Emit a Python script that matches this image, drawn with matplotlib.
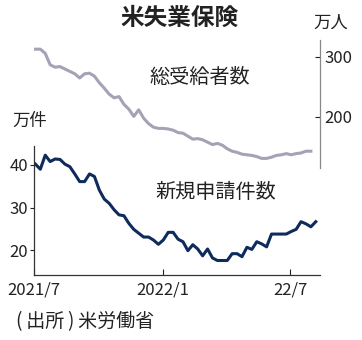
import pandas as pd
import matplotlib
matplotlib.use("Agg")
import matplotlib.pyplot as plt

plt.rcParams['font.family'] = ['Noto Sans CJK JP', 'DejaVu Sans']

# weekly initial claims (万件) and continued claims (万人)
weeks = pd.date_range('2021-07-03', periods=58, freq='7D')
new_claims = [40.2, 39.0, 42.3, 40.8, 41.4, 41.3, 40.2, 39.6, 37.9, 36.1,
              36.1, 37.9, 37.3, 34.1, 32.0, 31.0, 29.5, 28.3, 28.1, 26.3,
              24.9, 24.0, 23.1, 23.1, 22.4, 21.4, 22.4, 24.2, 24.2, 22.6,
              22.0, 19.9, 21.3, 20.3, 18.7, 20.3, 18.2, 17.6, 17.6, 17.6,
              19.2, 19.2, 18.5, 20.7, 20.2, 22.0, 21.5, 20.8, 23.8, 23.8,
              23.8, 23.8, 24.4, 24.9, 26.7, 26.2, 25.5, 26.7]
total_claims = [313, 313, 306, 287, 283, 284, 280, 276, 272, 265,
                272, 273, 268, 257, 248, 238, 232, 234, 221, 213,
                201, 212, 198, 189, 183, 181, 181, 180, 178, 174,
                173, 168, 163, 164, 162, 158, 154, 156, 153, 147,
                143, 141, 138, 137, 136, 134, 131, 131, 133, 136,
                137, 139, 137, 139, 140, 143, 143]

navy = '#0f2b5b'
gray = '#a3a3b5'
ink = '#222222'

fig = plt.figure(figsize=(3.62, 3.40), dpi=100)
xmin = pd.Timestamp('2021-07-01')
xmax = pd.Timestamp('2022-08-12')

# lower panel: new claims
ax = fig.add_axes([34/362, 1 - 275/340, 286/362, 129/340])
ax.plot(weeks, new_claims, color=navy, lw=2.2, solid_joinstyle='round')
ax.set_xlim(xmin, xmax)
ax.set_ylim(14.2, 44.45)
ax.set_yticks([20, 30, 40])
ax.set_xticks([pd.Timestamp('2021-07-01'), pd.Timestamp('2022-01-01'),
               pd.Timestamp('2022-07-01')])
ax.set_xticklabels(['2021/7', '2022/1', '22/7'])
for s in ['top', 'right']:
    ax.spines[s].set_visible(False)
for s in ['left', 'bottom']:
    ax.spines[s].set_color('#333333')
    ax.spines[s].set_linewidth(0.9)
ax.tick_params(axis='y', direction='out', length=3, width=0.8, pad=1.5,
               labelsize=12, colors=ink)
ax.tick_params(axis='x', direction='in', length=4, width=0.8, pad=5,
               labelsize=12, colors=ink)
ax.patch.set_visible(False)

# upper panel: continued claims, right axis
ax2 = fig.add_axes([34/362, 1 - 168/340, 286/362, 128/340])
ax2.plot(weeks[:len(total_claims)], total_claims, color=gray, lw=2.2,
         solid_joinstyle='round')
ax2.set_xlim(xmin, xmax)
ax2.set_ylim(115, 328.3)
ax2.set_yticks([200, 300])
ax2.set_xticks([])
for s in ['top', 'left', 'bottom']:
    ax2.spines[s].set_visible(False)
ax2.spines['right'].set_color('#888888')
ax2.spines['right'].set_linewidth(0.9)
ax2.yaxis.tick_right()
ax2.tick_params(axis='y', direction='in', length=3.5, width=0.8, pad=3,
                labelsize=12, colors=ink)
ax2.patch.set_visible(False)

fig.text(180/362, 1 - 18/340, '米失業保険', ha='center', va='center',
         fontsize=17, fontweight='bold', color=ink)
fig.text(331/362, 1 - 23/340, '万人', ha='center', va='center',
         fontsize=12.5, color=ink)
fig.text(30/362, 1 - 121/340, '万件', ha='center', va='center',
         fontsize=12.5, color=ink)
fig.text(200/362, 1 - 77.5/340, '総受給者数', ha='center', va='center',
         fontsize=14.5, color=ink)
fig.text(215.5/362, 1 - 192.5/340, '新規申請件数', ha='center', va='center',
         fontsize=14.5, color=ink)
fig.text(16/362, 1 - 322/340, '(\u2009出所\u2009)\u2009米労働省', ha='left',
         va='center', fontsize=13.7, color=ink)

fig.savefig('out.png', dpi=100)
